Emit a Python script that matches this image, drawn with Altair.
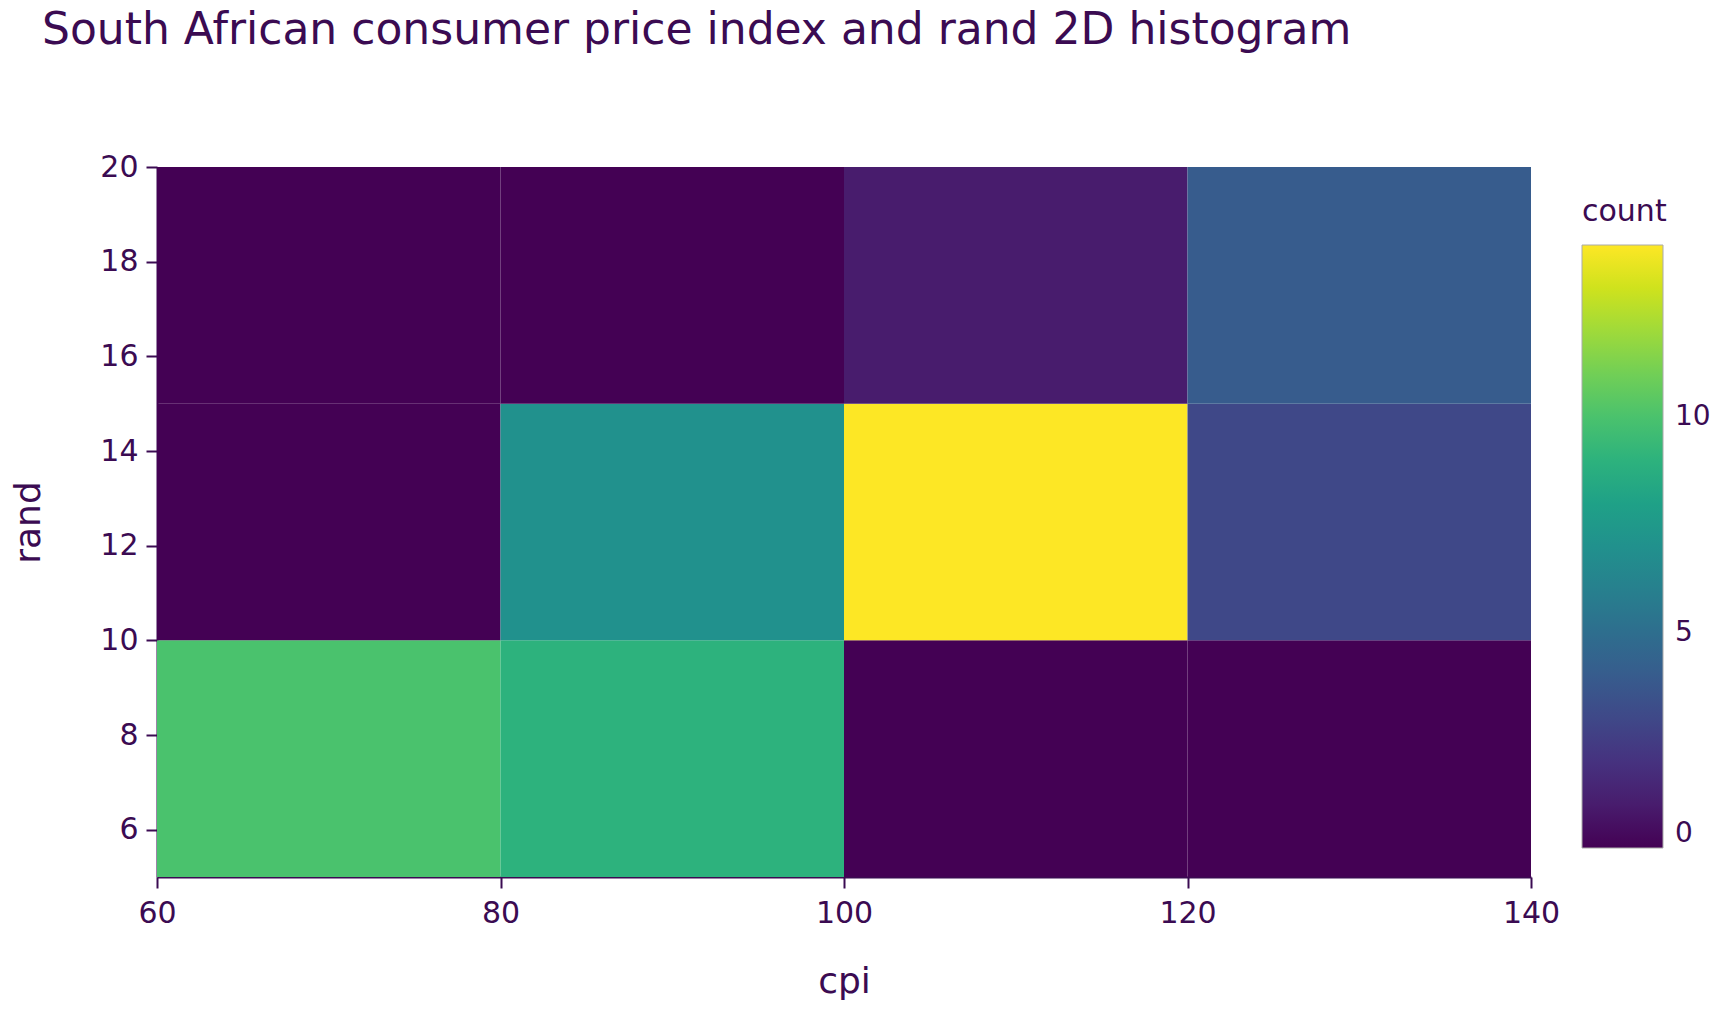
import pandas as pd
import altair as alt

# ------- 2D histogram bins ----------------------------
cpi_edges = [60, 80, 100, 120, 140]
rand_edges = [5, 10, 15, 20]
# one row per rand bin (bottom to top), one column per cpi bin (left to right)
counts = [
    [10, 9, 0, 0],
    [0, 7, 14, 3],
    [0, 0, 1, 4],
]

rows = []
for i, row in enumerate(counts):
    for j, c in enumerate(row):
        rows.append({'cpi0': cpi_edges[j], 'cpi1': cpi_edges[j + 1],
                     'rand0': rand_edges[i], 'rand1': rand_edges[i + 1],
                     'count': c})
df = pd.DataFrame(rows)

FONT = 'DejaVu Sans'
INK = '#3b0b52'

chart = alt.Chart(df).mark_rect().encode(
    x=alt.X('cpi0:Q', title='cpi',
            scale=alt.Scale(domain=[60, 140], nice=False, zero=False),
            axis=alt.Axis(values=[60, 80, 100, 120, 140], titleBaseline='middle',
                          titleY=104, labelPadding=10, labelFlush=False)),
    x2='cpi1:Q',
    y=alt.Y('rand0:Q', title='rand',
            scale=alt.Scale(domain=[5, 20], nice=False, zero=False),
            axis=alt.Axis(values=[6, 8, 10, 12, 14, 16, 18, 20], titleBaseline='middle',
                          titleX=-129, labelPadding=8, labelFlush=False)),
    y2='rand1:Q',
    color=alt.Color('count:Q', title='count',
                    scale=alt.Scale(scheme='viridis', domain=[0, 14]),
                    legend=alt.Legend(orient='none', legendX=1425, legendY=30,
                                      values=[0, 5, 10], gradientLength=603,
                                      gradientThickness=81, gradientStrokeColor='#aaaaaa',
                                      gradientStrokeWidth=1, labelOffset=12,
                                      titlePadding=18)),
).properties(
    width=1374,
    height=710,
    autosize='none',
    padding={'left': 149, 'top': 159, 'right': 186, 'bottom': 126},
    title=alt.TitleParams('South African consumer price index and rand 2D histogram',
                          anchor='start', frame='group', dx=-115, offset=99,
                          fontSize=44, fontWeight='normal', font=FONT, color=INK),
).configure_axis(
    grid=False, domainColor=INK, domainWidth=2, tickColor=INK, tickWidth=2,
    tickSize=11, labelFont=FONT, labelFontSize=30, labelColor=INK,
    titleFont=FONT, titleFontSize=36, titleFontWeight='normal', titleColor=INK,
).configure_legend(
    titleFont=FONT, titleFontSize=30, titleFontWeight='normal', titleColor=INK,
    labelFont=FONT, labelFontSize=28, labelColor=INK,
).configure_view(
    strokeWidth=0
)

chart.save("out.html", embed_options={"renderer": "svg", "actions": False})
